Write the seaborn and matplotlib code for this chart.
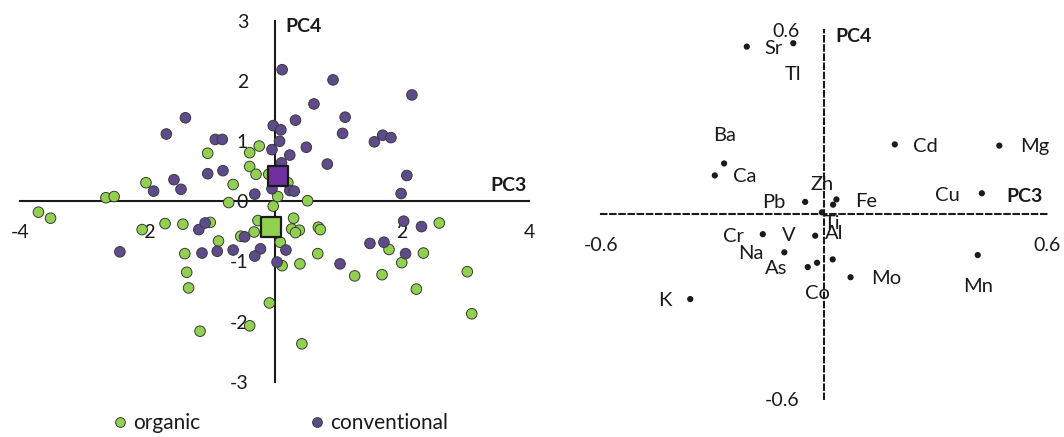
import matplotlib
matplotlib.use("Agg")
import matplotlib.pyplot as plt
from matplotlib.lines import Line2D
import pandas as pd
import seaborn as sns

# ---- sample scores on PC3 / PC4 ----
organic_pc3 = [-0.24, -1.05, -0.39, -0.39, -0.29, -0.09, -2.02, -0.65, -2.65, -2.52,
               0.05, 0.21, -0.72, 0.52, -0.02,
               -3.71, -3.52, -2.08, -1.72, -1.44, -1.01, -0.26, -0.32, -0.53, -0.88,
               -1.41, -1.38, -1.35, -1.17, -0.39, -0.08, 0.43, 0.30, 0.27, 0.39,
               0.33, 0.09, 0.12, 0.40, 0.69, 0.72, 0.68, 1.26, 1.69, 1.80,
               2.00, 2.23, 2.34, 2.59, 3.03, 3.10]
organic_pc4 = [0.92, 0.80, 0.81, 0.58, 0.45, 0.45, 0.31, 0.28, 0.06, 0.08,
               0.08, 0.31, -0.02, 0.01, -0.08,
               -0.18, -0.28, -0.47, -0.37, -0.38, -0.35, -0.32, -0.51, -0.58, -0.66,
               -0.87, -1.18, -1.44, -2.16, -2.07, -1.69, -2.37, -0.28, -0.46, -0.48,
               -0.52, -0.68, -1.07, -1.04, -0.43, -0.47, -0.87, -1.24, -1.22, -0.80,
               -1.02, -1.46, -0.86, -0.36, -1.17, -1.87]

conventional_pc3 = [0.12, 0.92, 2.16, 0.62, -1.40, 1.11, 0.33, -0.02, 0.10, -1.70,
                    1.07, 1.70, 1.83, 1.57, -0.93, -0.82, 0.08, 0.50, -0.04, 0.24,
                    0.11, 0.83, 2.08, -1.05, -0.81, -1.58, -1.90, -1.47, -0.31, -0.04,
                    0.24, 0.31, 1.99,
                    -2.43, -1.19, -1.09, -1.14, -0.90, -0.65, -0.47, -0.22, -0.31, 0.18,
                    0.04, 1.03, 1.50, 1.72, 2.03, 2.31, 2.06]
conventional_pc4 = [2.19, 2.02, 1.77, 1.62, 1.39, 1.40, 1.35, 1.26, 1.19, 1.12,
                    1.13, 1.10, 1.06, 0.99, 1.03, 1.03, 1.00, 0.90, 0.86, 0.77,
                    0.64, 0.62, 0.43, 0.46, 0.51, 0.36, 0.17, 0.20, 0.12, 0.21,
                    0.18, 0.17, 0.13,
                    -0.84, -0.47, -0.36, -0.86, -0.83, -0.81, -0.59, -0.79, -0.91, -0.81,
                    -1.01, -1.04, -0.70, -0.68, -0.33, -0.42, -0.87]

# group centroids
group_names = ["organic", "conventional"]
mean_pc3 = [-0.05, 0.05]
mean_pc4 = [-0.42, 0.42]

# ---- element loadings on PC3 / PC4 ----
elements = ["Sr", "Tl", "Ba", "Ca", "Cd", "Mg", "Cu", "Pb", "Zh", "Fe",
            "Ti", "Cr", "V", "Na", "As", "Co", "Al", "Mo", "K", "Mn"]
load_pc3 = [-0.208, -0.083, -0.269, -0.294, 0.190, 0.471, 0.424, -0.051, -0.006, 0.033,
            0.024, -0.165, -0.024, -0.107, -0.044, -0.019, 0.023, 0.071, -0.360, 0.413]
load_pc4 = [0.546, 0.557, 0.166, 0.127, 0.228, 0.224, 0.069, 0.041, 0.007, 0.049,
            0.032, -0.064, -0.069, -0.123, -0.171, -0.157, -0.146, -0.204, -0.275, -0.132]

score_ticks = [-4, -2, 0, 2, 4]
score_yticks = [-3, -2, -1, 0, 1, 2, 3]
load_ticks = [-0.6, 0.6]

# label placement around each loading dot (pixels: dx, dy)
label_offsets = {
    "Sr": (27, -2), "Tl": (0, -31), "Ba": (0, 28), "Ca": (30, -1), "Cd": (31, -2),
    "Mg": (35, -1), "Cu": (-34, -2), "Pb": (-31, -1), "Zh": (0, 28), "Fe": (30, -2),
    "Ti": (-1, -19), "Cr": (-29, -2), "V": (-26, 0), "Na": (-34, -1), "As": (-32, -1),
    "Co": (0, -31), "Al": (1, 26), "Mo": (36, -1), "K": (-25, -1), "Mn": (0, -31),
}

GREEN = "#92D050"
PURPLE = "#5F4B8B"
PURPLE_MEAN = "#7030A0"
EDGE = "#3a3a3a"
INK = "#1a1a1a"

sns.set_theme(style="white")
plt.rcParams["font.family"] = ["Lato", "DejaVu Sans"]
plt.rcParams["axes.unicode_minus"] = False
plt.rcParams["text.color"] = INK

W, H = 1064, 437
fig = plt.figure(figsize=(W / 100, H / 100), dpi=100)
fig.patch.set_facecolor("white")

# ================= scores =================
ax1 = fig.add_axes([20 / W, 1 - 381.7 / H, 509 / W, 360.7 / H])
scores = pd.DataFrame({
    "PC3": organic_pc3 + conventional_pc3,
    "PC4": organic_pc4 + conventional_pc4,
    "group": ["organic"] * len(organic_pc3) + ["conventional"] * len(conventional_pc3),
})
palette = {"organic": GREEN, "conventional": PURPLE}
sns.scatterplot(data=scores, x="PC3", y="PC4", hue="group", palette=palette,
                s=58, edgecolor=EDGE, linewidth=0.7, legend=False, ax=ax1, zorder=3)

means = pd.DataFrame({"PC3": mean_pc3, "PC4": mean_pc4, "group": group_names})
sns.scatterplot(data=means, x="PC3", y="PC4", hue="group",
                palette={"organic": GREEN, "conventional": PURPLE_MEAN},
                marker="s", s=205, edgecolor=INK, linewidth=1.6, legend=False,
                ax=ax1, zorder=4)

ax1.set_xlim(-4, 4)
ax1.set_ylim(-3, 3)
ax1.set_xticks(score_ticks)
ax1.set_yticks(score_yticks)
ax1.set_xticklabels([str(t) for t in score_ticks])
ax1.set_yticklabels([str(t) for t in score_yticks])
ax1.set_xlabel("")
ax1.set_ylabel("")
for side in ("top", "right"):
    ax1.spines[side].set_visible(False)
for side in ("left", "bottom"):
    ax1.spines[side].set_position(("data", 0))
    ax1.spines[side].set_linewidth(1.5)
    ax1.spines[side].set_color(INK)
    ax1.spines[side].set_zorder(2)
ax1.tick_params(axis="x", direction="out", length=7, width=1.5, color=INK,
                labelsize=14, labelcolor=INK, pad=9)
ax1.tick_params(axis="y", direction="out", length=7, width=1.5, color=INK,
                labelsize=14, labelcolor=INK, pad=12)
ax1.patch.set_alpha(0)

fig.text(285 / W, 1 - 27 / H, "PC4", ha="left", va="center",
         fontsize=14, fontweight="bold", color=INK)
fig.text(527 / W, 1 - 185 / H, "PC3", ha="right", va="center",
         fontsize=14, fontweight="bold", color=INK)

handles = [
    Line2D([], [], marker="o", ls="", markerfacecolor=GREEN, markeredgecolor=EDGE,
           markeredgewidth=0.7, markersize=7),
    Line2D([], [], marker="o", ls="", markerfacecolor=PURPLE, markeredgecolor=EDGE,
           markeredgewidth=0.7, markersize=7),
]
fig.legend(handles, group_names, loc="center", bbox_to_anchor=(281 / W, 1 - 423 / H),
           ncol=2, frameon=False, fontsize=15, handlelength=0.6, handletextpad=0.35,
           columnspacing=5.3, borderpad=0, borderaxespad=0)

# ================= loadings =================
ax2 = fig.add_axes([601 / W, 1 - 399 / H, 446.3 / W, 369 / H])
loadings = pd.DataFrame({"PC3": load_pc3, "PC4": load_pc4, "element": elements})
sns.scatterplot(data=loadings, x="PC3", y="PC4", color=INK, s=20,
                edgecolor="none", legend=False, ax=ax2, zorder=3)

for name, x, y in zip(elements, load_pc3, load_pc4):
    dx, dy = label_offsets[name]
    ax2.annotate(name, (x, y), xytext=(dx, dy), textcoords="offset pixels",
                 ha="center", va="center", fontsize=14.5, color=INK)

ax2.set_xlim(-0.6, 0.6)
ax2.set_ylim(-0.6, 0.6)
ax2.set_xticks(load_ticks)
ax2.set_yticks(load_ticks)
ax2.set_xticklabels([f"{t:.1f}" for t in load_ticks])
ax2.set_yticklabels([f"{t:.1f}" for t in load_ticks])
ax2.set_xlabel("")
ax2.set_ylabel("")
for side in ("top", "right"):
    ax2.spines[side].set_visible(False)
for side in ("left", "bottom"):
    ax2.spines[side].set_position(("data", 0))
    ax2.spines[side].set_linewidth(1.5)
    ax2.spines[side].set_color(INK)
    ax2.spines[side].set_linestyle((0, (2.6, 1.8)))
ax2.tick_params(axis="x", direction="out", length=5, width=1.5, color=INK,
                labelsize=14, labelcolor=INK, pad=11)
ax2.tick_params(axis="y", direction="out", length=7, width=1.5, color=INK,
                labelsize=14, labelcolor=INK, pad=11)
ax2.patch.set_alpha(0)

fig.text(835 / W, 1 - 36 / H, "PC4", ha="left", va="center",
         fontsize=14, fontweight="bold", color=INK)
fig.text(1043 / W, 1 - 197 / H, "PC3", ha="right", va="center",
         fontsize=14, fontweight="bold", color=INK)

fig.savefig("out.png", dpi=100, facecolor="white")
